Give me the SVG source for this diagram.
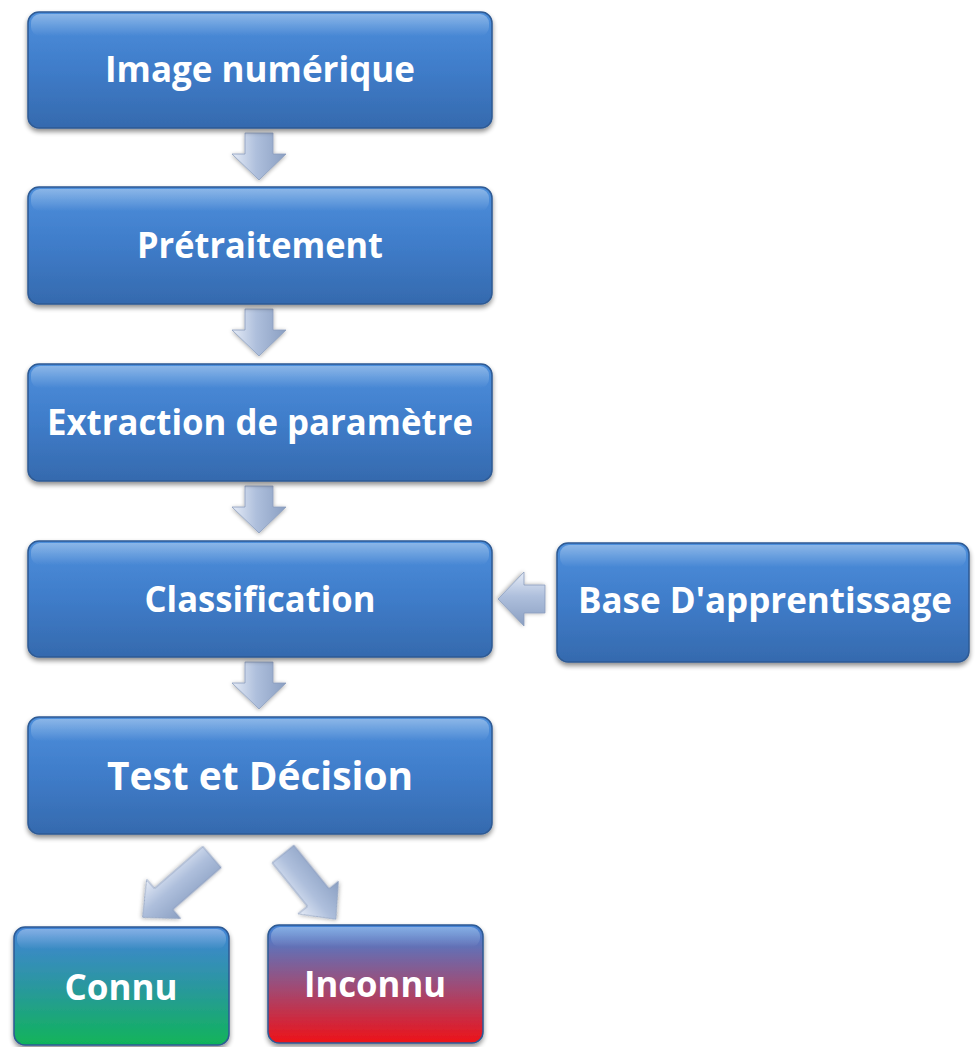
<svg xmlns="http://www.w3.org/2000/svg" width="979" height="1047" viewBox="0 0 979 1047">
<defs>
<linearGradient id="gBlue" x1="0" y1="0" x2="0" y2="1">
<stop offset="0" stop-color="#4d8fdc"/>
<stop offset="0.5" stop-color="#3f7cc9"/>
<stop offset="1" stop-color="#356aae"/>
</linearGradient>
<linearGradient id="gGreen" x1="0" y1="0" x2="0" y2="1">
<stop offset="0" stop-color="#4284d8"/>
<stop offset="0.5" stop-color="#2a979f"/>
<stop offset="1" stop-color="#10b45a"/>
</linearGradient>
<linearGradient id="gRed" x1="0" y1="0" x2="0" y2="1">
<stop offset="0" stop-color="#4284d8"/>
<stop offset="0.5" stop-color="#9b4e7a"/>
<stop offset="1" stop-color="#ee1218"/>
</linearGradient>
<linearGradient id="gShine" x1="0" y1="0" x2="0" y2="1">
<stop offset="0" stop-color="#ffffff" stop-opacity="0.35"/>
<stop offset="1" stop-color="#ffffff" stop-opacity="0"/>
</linearGradient>
<linearGradient id="gArrow" x1="0" y1="0" x2="1" y2="0">
<stop offset="0" stop-color="#e6ecf7"/>
<stop offset="0.45" stop-color="#aebfdc"/>
<stop offset="1" stop-color="#8a9fc2"/>
</linearGradient>
<filter id="sh" x="-10%" y="-10%" width="120%" height="130%">
<feGaussianBlur in="SourceAlpha" stdDeviation="2.5"/>
<feOffset dx="0" dy="3" result="b"/>
<feComponentTransfer><feFuncA type="linear" slope="0.45"/></feComponentTransfer>
<feMerge><feMergeNode/><feMergeNode in="SourceGraphic"/></feMerge>
</filter>
<filter id="ash" x="-30%" y="-30%" width="160%" height="160%">
<feGaussianBlur in="SourceAlpha" stdDeviation="2"/>
<feOffset dx="0" dy="1" result="b"/>
<feComponentTransfer><feFuncA type="linear" slope="0.35"/></feComponentTransfer>
<feMerge><feMergeNode/><feMergeNode in="SourceGraphic"/></feMerge>
</filter>
<path id="darrow" d="M-14,0 L14,0 L14,21 L27,21 L0,47 L-27,21 L-14,21 Z"/>
<path id="diagL" d="M-14,0 L14,0 L14,64 L26,64 L0,92 L-26,64 L-14,64 Z"/>
<path id="diagR" d="M-14,0 L14,0 L14,56 L26,56 L0,84 L-26,56 L-14,56 Z"/>
</defs>
<style>
.box{stroke:#2d5a94;stroke-width:1.5;filter:url(#sh)}
.shine{fill:url(#gShine)}
.lbl{font-family:"Open Sans","Liberation Sans",sans-serif;font-weight:bold;fill:#ffffff;text-anchor:middle}
.arr{fill:url(#gArrow);stroke:#8a9dbd;stroke-width:0.8;filter:url(#ash)}
</style>
<rect width="979" height="1047" fill="#ffffff"/>

<g id="connectors">
<use href="#darrow" class="arr" transform="translate(259,133)"/>
<use href="#darrow" class="arr" transform="translate(259,309)"/>
<use href="#darrow" class="arr" transform="translate(259,486)"/>
<use href="#darrow" class="arr" transform="translate(259,662)"/>
<use href="#darrow" class="arr" transform="translate(545,599) rotate(90)"/>
<use href="#diagL" class="arr" transform="translate(212,857) rotate(49)"/>
<use href="#diagR" class="arr" transform="translate(283,854) rotate(-39)"/>
</g>

<g id="n1">
<rect class="box" x="28" y="12" width="464" height="116" rx="11" fill="url(#gBlue)"/>
<rect class="shine" x="31" y="14" width="458" height="22" rx="9"/>
<text class="lbl" x="260" y="82" font-size="36" textLength="310" lengthAdjust="spacingAndGlyphs">Image numérique</text>
</g>
<g id="n2">
<rect class="box" x="28" y="187" width="464" height="117" rx="11" fill="url(#gBlue)"/>
<rect class="shine" x="31" y="189" width="458" height="22" rx="9"/>
<text class="lbl" x="260" y="258" font-size="36" textLength="246" lengthAdjust="spacingAndGlyphs">Prétraitement</text>
</g>
<g id="n3">
<rect class="box" x="28" y="364" width="464" height="117" rx="11" fill="url(#gBlue)"/>
<rect class="shine" x="31" y="366" width="458" height="22" rx="9"/>
<text class="lbl" x="260" y="435" font-size="36" textLength="426" lengthAdjust="spacingAndGlyphs">Extraction de paramètre</text>
</g>
<g id="n4">
<rect class="box" x="28" y="541" width="464" height="116" rx="11" fill="url(#gBlue)"/>
<rect class="shine" x="31" y="543" width="458" height="22" rx="9"/>
<text class="lbl" x="260" y="612" font-size="36" textLength="231" lengthAdjust="spacingAndGlyphs">Classification</text>
</g>
<g id="n5">
<rect class="box" x="28" y="717" width="464" height="117" rx="11" fill="url(#gBlue)"/>
<rect class="shine" x="31" y="719" width="458" height="22" rx="9"/>
<text class="lbl" x="260" y="790" font-size="40" textLength="306" lengthAdjust="spacingAndGlyphs">Test et Décision</text>
</g>
<g id="n6">
<rect class="box" x="557" y="543" width="412" height="119" rx="11" fill="url(#gBlue)"/>
<rect class="shine" x="560" y="545" width="406" height="22" rx="9"/>
<text class="lbl" x="765" y="613" font-size="36" textLength="374" lengthAdjust="spacingAndGlyphs">Base D'apprentissage</text>
</g>
<g id="n7">
<rect class="box" x="14" y="927" width="215" height="118" rx="11" fill="url(#gGreen)"/>
<rect class="shine" x="17" y="929" width="209" height="20" rx="9"/>
<text class="lbl" x="121" y="1000" font-size="36" textLength="113" lengthAdjust="spacingAndGlyphs">Connu</text>
</g>
<g id="n8">
<rect class="box" x="268" y="925" width="215" height="118" rx="11" fill="url(#gRed)"/>
<rect class="shine" x="271" y="927" width="209" height="20" rx="9"/>
<text class="lbl" x="375" y="997" font-size="36" textLength="142" lengthAdjust="spacingAndGlyphs">Inconnu</text>
</g>
</svg>
